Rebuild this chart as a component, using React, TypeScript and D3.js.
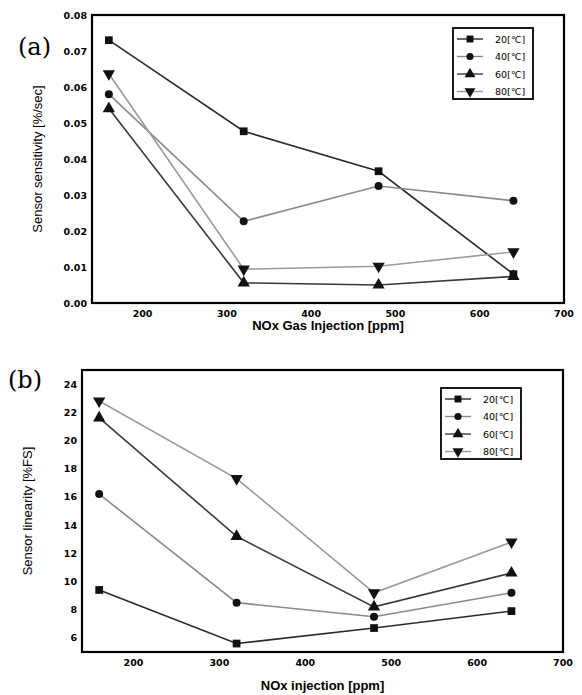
import React from 'react'
import * as d3 from 'd3'

const injection = [160, 320, 480, 640]
const seriesNames = ['20[℃]', '40[℃]', '60[℃]', '80[℃]']

const sensitivity20 = [0.073, 0.0477, 0.0366, 0.0080]
const sensitivity40 = [0.058, 0.0227, 0.0325, 0.0284]
const sensitivity60 = [0.054, 0.0056, 0.0050, 0.0074]
const sensitivity80 = [0.0637, 0.0094, 0.0102, 0.0142]

const linearity20 = [9.4, 5.6, 6.7, 7.9]
const linearity40 = [16.2, 8.5, 7.5, 9.2]
const linearity60 = [21.6, 13.2, 8.2, 10.6]
const linearity80 = [22.8, 17.3, 9.2, 12.8]

const xTicks = [200, 300, 400, 500, 600, 700]
const sensitivityTicks = [0, 0.01, 0.02, 0.03, 0.04, 0.05, 0.06, 0.07, 0.08]
const linearityTicks = [6, 8, 10, 12, 14, 16, 18, 20, 22, 24]

const lineColors = ['#2a2a2a', '#8a8a8a', '#3a3a3a', '#9a9a9a']
const symbols = [d3.symbolSquare, d3.symbolCircle, d3.symbolTriangle, d3.symbolTriangle]
const symbolSizes = [60, 50, 65, 65]
const rotations = [0, 0, 0, 180]

const tickFont = '"DejaVu Sans", sans-serif'

function Marker({ i, x, y, scale = 1 }) {
  const path = d3.symbol().type(symbols[i]).size(symbolSizes[i] * scale)()
  return <path d={path} fill="#111" transform={`translate(${x},${y}) rotate(${rotations[i]})`} />
}

function Panel({ tag, tagY, left, right, top, bottom, yDomain, yTicks, yFormat, series, yLabel, xLabel, xLabelY, legend }) {
  const x = d3.scaleLinear().domain([140, 700]).range([left, right])
  const y = d3.scaleLinear().domain(yDomain).range([bottom, top])
  const line = d3.line().x((d, k) => x(injection[k])).y(d => y(d))

  return (
    <g>
      <text x={left - 74} y={tagY} fontFamily='"DejaVu Serif", serif' fontSize={24}>{tag}</text>
      {series.map((vals, i) => (
        <path key={i} d={line(vals)} fill="none" stroke={lineColors[i]} strokeWidth={1.6} />
      ))}
      {series.map((vals, i) => vals.map((v, k) => (
        <Marker key={i + '-' + k} i={i} x={x(injection[k])} y={y(v)} />
      )))}
      <rect x={left} y={top} width={right - left} height={bottom - top} fill="none" stroke="#000" strokeWidth={2.2} />
      {xTicks.map(t => (
        <text key={t} x={x(t)} y={bottom + 14} textAnchor="middle" fontFamily={tickFont} fontWeight="bold" fontSize={9.5}>{t}</text>
      ))}
      {yTicks.map(t => (
        <text key={t} x={left - 5} y={y(t) + 3.5} textAnchor="end" fontFamily={tickFont} fontWeight="bold" fontSize={9.5}>{yFormat(t)}</text>
      ))}
      <text transform={`translate(${left - 50},${(top + bottom) / 2}) rotate(-90)`} textAnchor="middle"
        fontFamily='"Liberation Sans", Arial, sans-serif' fontSize={13}>{yLabel}</text>
      <text x={(left + right) / 2} y={xLabelY} textAnchor="middle"
        fontFamily='"Liberation Sans", Arial, sans-serif' fontWeight="bold" fontSize={13}>{xLabel}</text>
      <g>
        <rect x={legend.x} y={legend.y} width={80} height={71} fill="#fff" stroke="#000" strokeWidth={1.8} />
        {seriesNames.map((name, i) => {
          const ly = legend.y + 11 + i * 17.5
          return (
            <g key={name}>
              <line x1={legend.x + 4} x2={legend.x + 30} y1={ly} y2={ly} stroke={lineColors[i]} strokeWidth={1.4} />
              <Marker i={i} x={legend.x + 17} y={ly} scale={0.8} />
              <text x={legend.x + 42} y={ly + 3.5} fontFamily={tickFont} fontSize={9.5}>{name}</text>
            </g>
          )
        })}
      </g>
    </g>
  )
}

export default function App() {
  return (
    <svg width={582} height={695} style={{ position: 'absolute', left: 0, top: 0, background: '#fff' }}>
      <Panel
        tag="(a)" tagY={55}
        left={92} right={564} top={15} bottom={303}
        yDomain={[0, 0.08]} yTicks={sensitivityTicks} yFormat={d3.format('.2f')}
        series={[sensitivity20, sensitivity40, sensitivity60, sensitivity80]}
        yLabel="Sensor sensitivity [%/sec]"
        xLabel="NOx Gas Injection [ppm]" xLabelY={330}
        legend={{ x: 453, y: 28 }}
      />
      <Panel
        tag="(b)" tagY={388}
        left={82} right={563} top={370} bottom={652}
        yDomain={[5, 25]} yTicks={linearityTicks} yFormat={d3.format('d')}
        series={[linearity20, linearity40, linearity60, linearity80]}
        yLabel="Sensor linearity [%FS]"
        xLabel="NOx injection [ppm]" xLabelY={690}
        legend={{ x: 441, y: 388 }}
      />
    </svg>
  )
}
